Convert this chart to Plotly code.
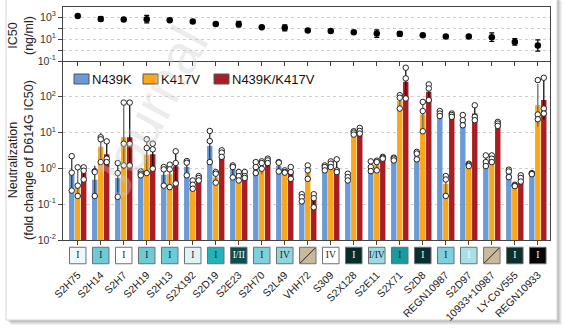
import numpy as np
import plotly.graph_objects as go
from plotly.subplots import make_subplots

# ---------------- data ----------------
antibodies = ["S2H75", "S2H14", "S2H7", "S2H19", "S2H13", "S2X192", "S2D19", "S2E23",
              "S2H70", "S2L49", "VHH72", "S309", "S2X128", "S2E11", "S2X71", "S2D8",
              "REGN10987", "S2D97", "10933+10987", "LY-CoV555", "REGN10933"]

# IC50 against D614G (ng/ml) and geometric SD factor
ic50 = [1300, 700, 600, 660, 530, 400, 245, 230, 122, 106, 60, 56, 43, 32, 30, 23, 17, 17, 15, 5.5, 2.6]
ic50_gsd = [1, 1.6, 1, 2.2, 1, 1, 1, 1.8, 1, 1.9, 1, 1, 1, 2.2, 1.6, 1, 1, 1, 2.5, 2.0, 3.2]

# fold change of D614G IC50 (geometric means)
n439k = [0.66, 0.48, 0.54, 0.71, 0.66, 1.09, 4.2, 0.94, 0.98, 1.16, 0.16, 0.98, 0.54, 0.94,
         1.79, 2.4, 27.5, 23.1, 1.6, 0.79, 0.71]
k417v = [0.36, 4.0, 7.4, 2.4, 0.69, 0.33, 0.57, 0.74, 0.88, 0.71, 0.79, 1.16, 8.4, 1.29,
         77, 32, 0.37, 1.21, 1.95, 0.33, 58]
n439k_k417v = [0.74, 2.5, 7.4, 2.5, 1.14, 0.49, 2.1, 0.54, 1.27, 0.74, 0.13, 1.02, 9.4, 1.87,
               263, 138, 34, 34, 15.4, 0.51, 81]

# individual replicates
n439k_reps = [[2.2, 0.76, 0.24], [0.84, 0.79, 0.17], [1.41, 0.74, 0.16], [0.82, 0.71, 0.64],
              [1.09, 0.94, 0.33], [1.60, 1.44, 0.64], [11.1, 5.8, 1.5], [1.21, 1.09, 0.56],
              [1.5, 1.09, 0.74], [1.5, 1.44, 0.82], [0.19, 0.157, 0.12], [1.21, 1.09, 0.88],
              [0.71, 0.57, 0.46], [1.57, 1.09, 0.84], [2.0, 1.87, 1.67], [2.9, 2.6, 1.79],
              [40, 34, 29], [31, 22.2, 16.0], [2.3, 1.5, 1.16], [0.92, 0.82, 0.57],
              [0.74, 0.71, 0.69]]
k417v_reps = [[1.07, 0.33, 0.17], [7.4, 6.5, 1.5], [69, 4.9, 1.21], [6.5, 3.7, 0.74],
              [1.27, 0.94, 0.30], [0.46, 0.35, 0.27], [0.79, 0.71, 0.40], [0.79, 0.61, 0.46],
              [1.57, 1.41, 0.98], [0.88, 0.79, 0.76], [1.21, 0.88, 0.51], [1.57, 1.35, 1.09],
              [10.9, 10.0, 8.8], [1.64, 1.5, 0.88], [111, 94, 47], [72, 40, 10.9],
              [0.61, 0.49, 0.17], [1.35, 1.27, 1.16], [2.3, 1.87, 1.5], [0.35, 0.33, 0.32],
              [293, 32, 23.6]]
n439k_k417v_reps = [[1.07, 0.86, 0.49], [5.7, 1.87, 1.5], [69, 4.9, 1.21], [4.9, 3.4, 0.98],
                    [3.0, 1.41, 0.38], [0.61, 0.54, 0.46], [3.2, 2.75, 2.1], [0.79, 0.61, 0.54],
                    [1.87, 1.67, 1.41], [1.09, 0.79, 0.51], [0.19, 0.147, 0.082], [1.79, 0.88, 0.79],
                    [13.5, 11.1, 9.4], [2.1, 2.0, 1.87], [650, 327, 90], [222, 171, 81],
                    [34, 31, 27.5], [58, 27.5, 22.2], [19.9, 17.9, 15.4], [0.64, 0.54, 0.43],
                    [340, 47, 34]]

# epitope class boxes ("" = non-classified, drawn with a slash)
epitope_class = ["I", "I", "I", "I", "I", "I", "I", "I/II", "I", "IV", "", "IV", "I", "I/IV",
                 "I", "I", "I", "I", "", "I", "I"]
class_fill = ["#eef8fa", "#6ccbd5", "#ffffff", "#6ccbd5", "#6ccbd5", "#dff2f6", "#23b2b5",
              "#0e4c4f", "#7fd0da", "#8ed5dd", "#c9b99b", "#ffffff", "#062b2b", "#9bdae1",
              "#1a9a9b", "#0a2e2e", "#7fd0da", "#a8e0e6", "#c9b99b", "#0f2f2f", "#050505"]
class_text = ["#222", "#222", "#222", "#222", "#222", "#222", "#222", "#ffffff", "#222", "#222",
              "#222", "#222", "#ffffff", "#222", "#222", "#ffffff", "#222", "#ffffff", "#222",
              "#ffffff", "#ffffff"]

series_names = ["N439K", "K417V", "N439K/K417V"]
series_colors = ["#6b9bd6", "#f9a81e", "#a81e24"]
error_colors = ["#3a3a3a", "#6a6a6a", "#111111"]
series_values = [n439k, k417v, n439k_k417v]
series_reps = [n439k_reps, k417v_reps, n439k_k417v_reps]

# ---------------- figure ----------------
FONT = "Liberation Sans, Arial, sans-serif"
W, H = 566, 331
ML, MR, MT, MB = 63, 16, 7, 65
PW, PH = W - ML - MR, H - MT - MB


def px(x, y):
    """pixel position -> paper coordinates"""
    return (x - ML) / PW, (H - MB - y) / PH


fig = make_subplots(rows=3, cols=1, shared_xaxes=False)

idx = np.arange(len(antibodies))
offsets = [-0.26, 0.0, 0.26]

# top panel: IC50
gsd = np.array(ic50_gsd)
ic = np.array(ic50, dtype=float)
fig.add_trace(go.Scatter(
    x=idx, y=ic, mode="markers", showlegend=False,
    marker=dict(color="black", size=6.5),
    error_y=dict(type="data", symmetric=False, array=ic * (gsd - 1), arrayminus=ic * (1 - 1 / gsd),
                 color="black", thickness=1.2, width=2.5),
), row=1, col=1)

# bottom panel: bars + replicates
for k in range(3):
    vals = np.array(series_values[k], dtype=float)
    s = np.array([np.std(np.log10(r), ddof=1) for r in series_reps[k]])
    fig.add_trace(go.Bar(
        x=idx + offsets[k], y=vals, width=0.235, name=series_names[k], showlegend=False,
        marker=dict(color=series_colors[k], line=dict(width=0)),
        error_y=dict(type="data", symmetric=False, array=vals * (10 ** s - 1),
                     arrayminus=vals * (1 - 10 ** (-s)), color=error_colors[k],
                     thickness=1.3, width=0),
    ), row=2, col=1)
for k in range(3):
    reps = series_reps[k]
    dx = [idx[i] + offsets[k] for i, r in enumerate(reps) for _ in r]
    dy = [v for r in reps for v in r]
    fig.add_trace(go.Scatter(
        x=dx, y=dy, mode="markers", showlegend=False, hoverinfo="skip",
        marker=dict(color="white", size=5.5, line=dict(color="#222", width=1)),
    ), row=2, col=1)

# epitope class boxes
fig.add_trace(go.Scatter(
    x=idx, y=[0.5] * len(idx), mode="markers+text", showlegend=False,
    text=epitope_class, textposition="middle center",
    textfont=dict(family="Liberation Serif, serif", size=9.5, color=class_text),
    marker=dict(symbol="square", size=16.5, color=class_fill, line=dict(color="#6f6f6f", width=1)),
), row=3, col=1)
slash = [i for i, c in enumerate(epitope_class) if c == ""]
fig.add_trace(go.Scatter(
    x=slash, y=[0.5] * len(slash), mode="markers", showlegend=False,
    marker=dict(symbol="line-ne", size=15, line=dict(color="#222", width=1)),
), row=3, col=1)

xr = [-0.64, 20.53]
axcol = "#444"
fig.update_layout(
    width=W, height=H, autosize=False,
    margin=dict(l=ML, r=MR, t=MT, b=MB),
    paper_bgcolor="white", plot_bgcolor="rgba(0,0,0,0)",
    font=dict(family=FONT, color="#222"),
    barmode="overlay",
    showlegend=False,
    xaxis=dict(domain=[0, 1], range=xr, tickvals=list(idx), showticklabels=False,
               ticks="outside", ticklen=4, tickcolor=axcol, showline=True, mirror=True,
               linecolor=axcol, showgrid=False, zeroline=False),
    yaxis=dict(domain=[px(0, 61)[1], 1], type="log", range=[-1, 3.93],
               tickvals=[0.1, 1, 10, 100, 1000],
               ticktext=["10<sup>-1</sup>", "", "10<sup>1</sup>", "", "10<sup>3</sup>"],
               ticks="outside", ticklen=4, tickcolor=axcol, showline=True, mirror=True,
               linecolor=axcol, showgrid=True, gridcolor="#cfcfcf", griddash="dot",
               tickfont=dict(size=10.5, color="#333")),
    xaxis2=dict(domain=[0, 1], range=xr, tickvals=list(idx), showticklabels=False,
                ticks="outside", ticklen=4, tickcolor=axcol, showline=True, linecolor=axcol,
                showgrid=False, zeroline=False),
    yaxis2=dict(domain=[px(0, 240)[1], px(0, 61)[1]], type="log", range=[-2, 3.0],
                tickvals=[0.01, 0.1, 1, 10, 100],
                ticktext=["10<sup>-2</sup>", "10<sup>-1</sup>", "10<sup>0</sup>",
                          "10<sup>1</sup>", "10<sup>2</sup>"],
                ticks="outside", ticklen=4, tickcolor=axcol, showline=True, mirror=True,
                linecolor=axcol, showgrid=True, gridcolor="#cfcfcf", griddash="dot",
                tickfont=dict(size=10.5, color="#333")),
    xaxis3=dict(domain=[0, 1], range=xr, tickvals=list(idx), ticktext=antibodies,
                tickangle=-45, ticks="", showline=False, showgrid=False, zeroline=False,
                tickfont=dict(size=10.5, color="#222")),
    yaxis3=dict(domain=[0, px(0, 245)[1]], range=[0, 1], visible=False),
)

# axis titles
tx, ty = px(21, 36)
fig.add_annotation(text="IC50<br>(ng/ml)", xref="paper", yref="paper", x=tx, y=ty,
                   xanchor="center", yanchor="middle",
                   showarrow=False, textangle=-90, font=dict(size=12.5, color="#222"))
tx, ty = px(21, 160)
fig.add_annotation(text="Neutralization<br>(fold change of D614G IC50)", xref="paper", yref="paper",
                   x=tx, y=ty, xanchor="center", yanchor="middle",
                   showarrow=False, textangle=-90, font=dict(size=12.5, color="#222"))

# card with a soft drop shadow
shapes = []
for d, a in [(5, 0.05), (4, 0.06), (3, 0.07), (2, 0.08)]:
    x0, y0 = px(6 + d, -4 + d)
    x1, y1 = px(557 + d, 320 + d)
    shapes.append(dict(type="rect", xref="paper", yref="paper", x0=x0, y0=y0, x1=x1, y1=y1,
                       fillcolor=f"rgba(0,0,0,{a})", line=dict(width=0), layer="below"))
x0, y0 = px(6, -4)
x1, y1 = px(557, 320)
shapes.append(dict(type="rect", xref="paper", yref="paper", x0=x0, y0=y0, x1=x1, y1=y1,
                   fillcolor="white", line=dict(color="#d4d4d4", width=1), layer="below"))

# legend: swatch + label for each series
legend_left = [74, 143, 214]
for k in range(3):
    x0, y0 = px(legend_left[k], 74)
    x1, y1 = px(legend_left[k] + 15, 84)
    shapes.append(dict(type="rect", xref="paper", yref="paper", x0=x0, y0=y0, x1=x1, y1=y1,
                       fillcolor=series_colors[k], line=dict(color="#555", width=1)))
    lx, ly = px(legend_left[k] + 16, 79.5)
    fig.add_annotation(text=series_names[k], xref="paper", yref="paper", x=lx, y=ly,
                       xanchor="left", yanchor="middle", showarrow=False,
                       font=dict(size=13, color="#111"))
fig.update_layout(shapes=shapes)

# faint watermark
wx, wy = px(150, 112)
fig.add_annotation(text="Journal", xref="paper", yref="paper", x=wx, y=wy, showarrow=False,
                   xanchor="center", yanchor="middle",
                   textangle=-62, font=dict(size=56, family=FONT, color="rgba(200,200,200,0.35)"))

fig.write_html("out.html")
